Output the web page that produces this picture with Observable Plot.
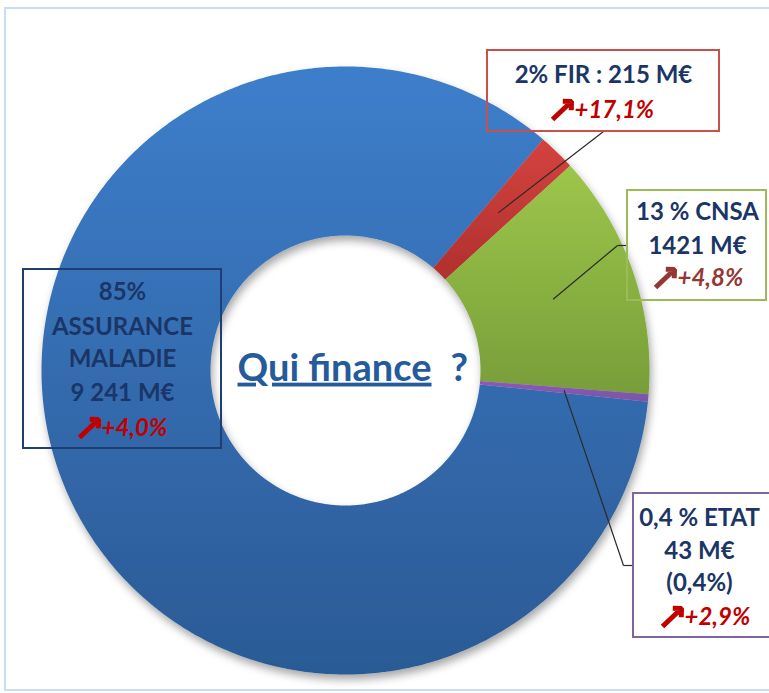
<!DOCTYPE html>
<html><head><meta charset="utf-8">
<script src="https://cdn.jsdelivr.net/npm/d3@7"></script>
<script src="https://cdn.jsdelivr.net/npm/@observablehq/plot@0.6"></script>
<style>body{margin:0;background:#fff;} svg{display:block;}</style>
</head><body><div id="chart"></div>
<script>
// ---- data ----
const sources = ["ASSURANCE MALADIE", "FIR", "CNSA", "ETAT"];
const amounts = [9241, 215, 1421, 43];
const shareLabels = ["85%", "2%", "13 %", "0,4 %"];
const amountLabels = ["9 241 M€", "215 M€", "1421 M€", "43 M€"];
const growthLabels = ["+4,0%", "+17,1%", "+4,8%", "+2,9%"];
const labelLines = [
  [shareLabels[0], "ASSURANCE", "MALADIE", amountLabels[0]],
  [`${shareLabels[1]} FIR : ${amountLabels[1]}`],
  [`${shareLabels[2]} CNSA`, amountLabels[2]],
  [`${shareLabels[3]} ETAT`, amountLabels[3], "(0,4%)"]
];
const centerTitle = "Qui finance";

// ---- layout ----
const W = 769, H = 693;
const CX = 345, CY = 370, R_OUT = 304, R_IN = 135, START_DEG = 95.9;
const FONT = "Lato, 'DejaVu Sans', sans-serif";
const NAVY = "#1b3566";
const sliceColors = [["#3d7ecb", "#2b5a95"], ["#d3433f", "#b0302d"], ["#9dc64b", "#779e39"], ["#8c5ab8", "#7a55a6"]];
const sliceMarkers = ["#000001", "#000002", "#000003", "#000004"];
const boxLayout = [
  {x1: 23, x2: 221, y1: 269, y2: 448, stroke: "#1f3f73", cx: 122, split: 101, ys: [292, 327, 359, 393, 428], growthColor: "#c00000", leader: null},
  {x1: 487, x2: 719, y1: 50, y2: 131, stroke: "#c9504c", cx: 603, split: 574, ys: [75, 110], growthColor: "#c00000", leader: [[603, 131]]},
  {x1: 627, x2: 766, y1: 190, y2: 300, stroke: "#9bbb59", cx: 697, split: 677, ys: [212, 246, 278], growthColor: "#953735", leader: [[617, 245], [627, 245]]},
  {x1: 633, x2: 785, y1: 493, y2: 637, stroke: "#8064a2", cx: 699, split: 684, ys: [518, 551, 583, 617], growthColor: "#c00000", leader: [[623, 565], [633, 565]]}
];

// ---- geometry from data ----
const rad = d => d * Math.PI / 180;
const arcs = d3.pie().sort(null).startAngle(rad(START_DEG)).endAngle(rad(START_DEG + 360))(amounts);
const slicePts = arcs.map((p) => {
  const pts = [];
  const n = Math.max(4, Math.ceil((p.endAngle - p.startAngle) / 0.01));
  for (let k = 0; k <= n; k++) {
    const a = p.startAngle + (p.endAngle - p.startAngle) * k / n;
    pts.push({x: CX + R_OUT * Math.sin(a), y: CY - R_OUT * Math.cos(a)});
  }
  for (let k = n; k >= 0; k--) {
    const a = p.startAngle + (p.endAngle - p.startAngle) * k / n;
    pts.push({x: CX + R_IN * Math.sin(a), y: CY - R_IN * Math.cos(a)});
  }
  return pts;
});
const centroids = arcs.map(p => {
  const a = (p.startAngle + p.endAngle) / 2, r = (R_OUT + R_IN) / 2;
  return [CX + r * Math.sin(a), CY - r * Math.cos(a)];
});

const leaderSegs = [];
boxLayout.forEach((b, i) => {
  if (!b.leader) return;
  const path = [centroids[i], ...b.leader];
  for (let k = 0; k < path.length - 1; k++) leaderSegs.push({x1: path[k][0], y1: path[k][1], x2: path[k + 1][0], y2: path[k + 1][1]});
});

const textRows = [], growthRows = [];
boxLayout.forEach((b, i) => {
  labelLines[i].forEach((t, k) => textRows.push({x: b.cx, y: b.ys[k], text: t}));
  const y = b.ys[labelLines[i].length];
  growthRows.push({x: b.split, y, text: growthLabels[i], fill: b.growthColor,
    ax1: b.split - 22, ay1: y + 9, ax2: b.split - 3, ay2: y - 9});
});

const marks = [
  Plot.rect([0], {x1: () => 5, x2: () => 790, y1: () => 8, y2: () => 690, fill: "none", stroke: "#c9dcf2", strokeWidth: 2}),
  ...slicePts.map((pts, i) => Plot.line(pts, {x: "x", y: "y", curve: "linear-closed", fill: sliceMarkers[i], stroke: "none"})),
  Plot.link(leaderSegs, {x1: "x1", y1: "y1", x2: "x2", y2: "y2", stroke: "#2a2a2a", strokeWidth: 1.2}),
  ...boxLayout.map(b => Plot.rect([b], {x1: "x1", x2: "x2", y1: "y1", y2: "y2", fill: "none", stroke: b.stroke, strokeWidth: 2})),
  Plot.text(textRows, {x: "x", y: "y", text: "text", fill: NAVY, fontFamily: FONT, fontWeight: "bold", fontSize: 24, textAnchor: "middle", lineAnchor: "middle"}),
  Plot.text(growthRows, {x: "x", y: "y", text: "text", fill: "fill", fontFamily: FONT, fontWeight: "bold", fontStyle: "italic", fontSize: 24, textAnchor: "start", lineAnchor: "middle"}),
  Plot.arrow(growthRows, {x1: "ax1", y1: "ay1", x2: "ax2", y2: "ay2", stroke: "fill", strokeWidth: 5, headLength: 2.8, headAngle: 90, strokeLinecap: "butt", strokeLinejoin: "miter"}),
  Plot.text([centerTitle], {x: () => 237, y: () => 368, text: d => d, fill: "#255a9b", fontFamily: FONT, fontWeight: "bold", fontSize: 38, textAnchor: "start", lineAnchor: "middle"}),
  Plot.text(["?"], {x: () => 450, y: () => 368, text: d => d, fill: "#255a9b", fontFamily: FONT, fontWeight: "bold", fontSize: 38, textAnchor: "start", lineAnchor: "middle"})
];

const svg = Plot.plot({
  width: W, height: H, margin: 0,
  x: {domain: [0, W], range: [0, W], axis: null},
  y: {domain: [0, H], range: [0, H], axis: null},
  color: {type: "identity"},
  style: {background: "white"},
  marks
});

// defs: gradients + shadow
const s = d3.select(svg);
const defs = s.insert("defs", ":first-child");
sliceColors.forEach((c, i) => {
  const g = defs.append("linearGradient").attr("id", `grad${i}`).attr("x1", 0).attr("y1", 0).attr("x2", 0).attr("y2", 1);
  g.append("stop").attr("offset", "0%").attr("stop-color", c[0]);
  g.append("stop").attr("offset", "100%").attr("stop-color", c[1]);
});
const f = defs.append("filter").attr("id", "shadow").attr("x", "-10%").attr("y", "-10%").attr("width", "130%").attr("height", "130%");
f.append("feDropShadow").attr("dx", 2).attr("dy", 5).attr("stdDeviation", 4).attr("flood-color", "#000").attr("flood-opacity", 0.35);

const sliceNodes = [];
s.selectAll("*").each(function () {
  const fill = (this.getAttribute("fill") || "").toLowerCase();
  const idx = sliceMarkers.indexOf(fill);
  if (idx >= 0) {
    this.setAttribute("fill", `url(#grad${idx})`);
    if (this.tagName.toLowerCase() === "g") sliceNodes.push(this);
  }
});
if (sliceNodes.length) {
  const wrap = document.createElementNS("http://www.w3.org/2000/svg", "g");
  wrap.setAttribute("filter", "url(#shadow)");
  sliceNodes[0].parentNode.insertBefore(wrap, sliceNodes[0]);
  sliceNodes.forEach(n => wrap.appendChild(n));
}
s.selectAll("text").each(function () {
  if (this.textContent === centerTitle) {
    this.setAttribute("text-decoration", "underline");
    this.style.textDecoration = "underline";
  }
});

document.getElementById("chart").appendChild(svg);
</script>
</body></html>
